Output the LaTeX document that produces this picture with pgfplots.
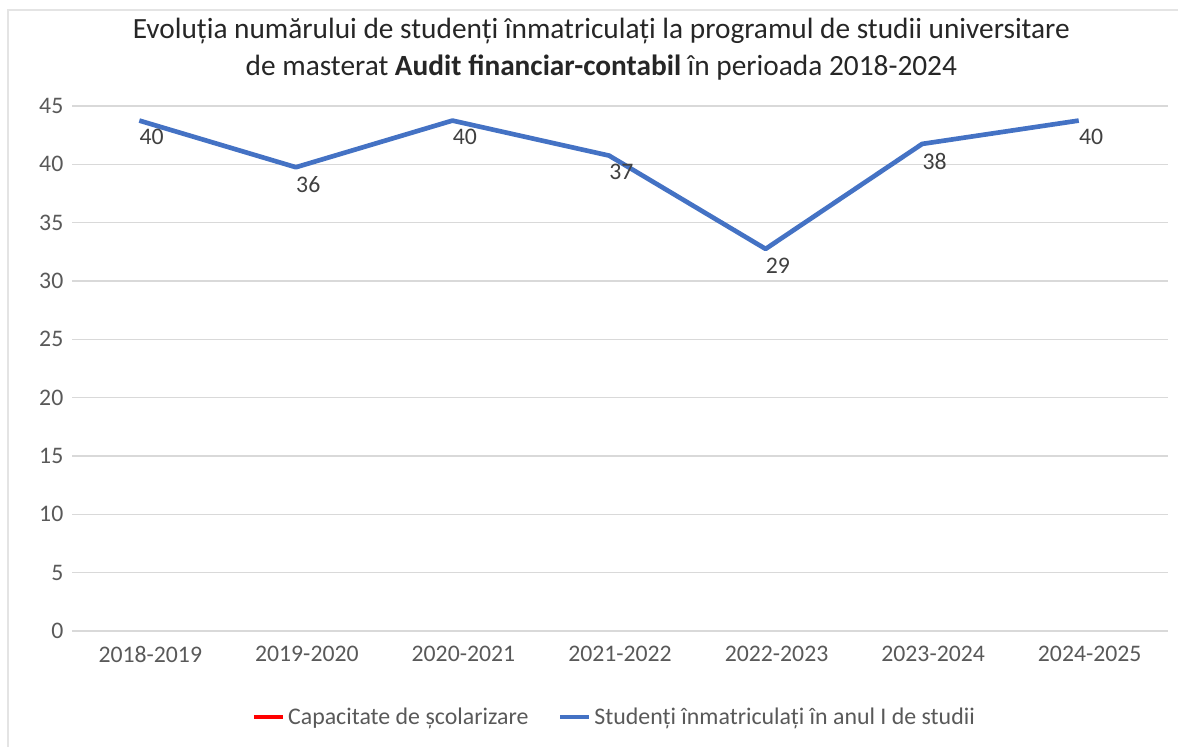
\documentclass[border=0pt]{standalone}
\usepackage{pgfplots}
\pgfplotsset{compat=1.18}
\usepackage{pgfplotstable}
\usepackage{fontspec}
\setmainfont{Carlito}
\definecolor{gridgray}{HTML}{D9D9D9}
\definecolor{ticktext}{HTML}{595959}
\definecolor{labeltext}{HTML}{404040}
\definecolor{seriesblue}{HTML}{4472C4}
\definecolor{seriesred}{HTML}{FF0000}

\pgfplotstableread{
x      y      lab
-0.07  43.75  40
0.93   39.75  36
1.93   43.75  40
2.93   40.75  37
3.93   32.75  29
4.93   41.75  38
5.93   43.75  40
}\studtable

\begin{document}
\begin{tikzpicture}
\path[use as bounding box] (0,0) rectangle (883.5pt,560.25pt);
\draw[gridgray!70, line width=2pt] (6pt,0) -- (6pt,552.75pt) -- (883.5pt,552.75pt);
\begin{axis}[
  at={(54pt,87pt)}, anchor=south west,
  scale only axis,
  width=822pt, height=393.75pt,
  xmin=-0.5, xmax=6.5, ymin=0, ymax=45,
  xtick={0,1,2,3,4,5,6},
  xticklabels={2018-2019,2019-2020,2020-2021,2021-2022,2022-2023,2023-2024,2024-2025},
  ytick={0,5,10,15,20,25,30,35,40,45},
  axis line style={draw=none},
  tick style={draw=none},
  ymajorgrids, grid style={gridgray, line width=1.2pt},
  /pgf/number format/assume math mode=true,
  ticklabel style={font=\fontsize{17.8}{20}\selectfont, text=ticktext},
  yticklabel style={xshift=-3pt},
  xticklabel style={yshift=-8pt},
  title={Evoluția numărului de studenți înmatriculați la programul de studii universitare\\de masterat \textbf{Audit financiar-contabil} în perioada 2018-2024},
  title style={at={(0.483,1)}, anchor=south, yshift=10pt, align=center,
    font=\fontsize{22}{27.75}\selectfont, text=black!85},
  legend columns=2,
  legend style={at={(0.495,-0.164)}, anchor=center, draw=none, fill=none,
    font=\fontsize{17.9}{20}\selectfont, text=ticktext,
    /tikz/every even column/.append style={column sep=20pt}},
  legend image code/.code={\draw[#1] (0pt,0pt) -- (22pt,0pt);},
]
\addlegendimage{seriesred, line width=3.5pt}
\addlegendentry{Capacitate de școlarizare}
\addplot[seriesblue, line width=3.5pt, line join=round,
  nodes near coords, point meta=explicit symbolic,
  every node near coord/.append style={anchor=north west, inner sep=0pt,
    xshift=-1.5pt, yshift=-5pt, text=labeltext, font=\fontsize{17.8}{20}\selectfont}]
  table[x=x, y=y, meta=lab] {\studtable};
\addlegendentry{Studenți înmatriculați în anul I de studii}
\end{axis}
\end{tikzpicture}
\end{document}
